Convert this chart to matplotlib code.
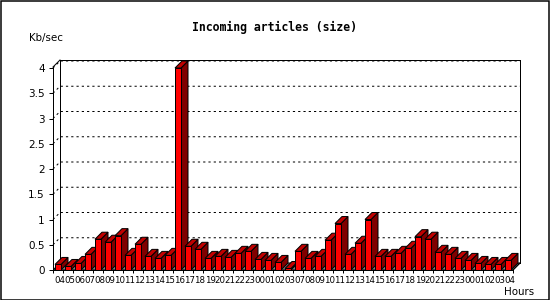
import matplotlib
matplotlib.use("Agg")
import matplotlib.pyplot as plt
from matplotlib.patches import Rectangle, Polygon
import numpy as np

hours = ['04', '05', '06', '07', '08', '09', '10', '11', '12', '13', '14', '15',
         '16', '17', '18', '19', '20', '21', '22', '23', '00', '01', '02', '03',
         '07', '08', '09', '10', '11', '12', '13', '14', '15', '16', '17', '18',
         '19', '20', '21', '22', '23', '00', '01', '02', '03', '04']
kb_sec = [0.11, 0.07, 0.13, 0.31, 0.61, 0.55, 0.68, 0.29, 0.51, 0.27, 0.23, 0.29,
          4.0, 0.47, 0.41, 0.23, 0.27, 0.25, 0.33, 0.37, 0.21, 0.19, 0.15, 0.03,
          0.37, 0.23, 0.27, 0.59, 0.92, 0.31, 0.53, 1.0, 0.27, 0.27, 0.33, 0.43,
          0.66, 0.61, 0.35, 0.31, 0.23, 0.19, 0.13, 0.11, 0.11, 0.19]
y_ticks = [0, 0.5, 1, 1.5, 2, 2.5, 3, 3.5, 4]
y_tick_labels = ['0', '0.5', '1', '1.5', '2', '2.5', '3', '3.5', '4']

W, H = 550, 300
PX = 0.72  # one pixel in points at dpi 100
plt.rcParams['lines.scale_dashes'] = False

fig = plt.figure(figsize=(W / 100, H / 100), dpi=100)
fig.patch.set_facecolor('white')

# axes placed in pixel coordinates (front-left/bottom to back-right/top)
left_px, right_px, top_px, base_px = 53, 520, 60, 270
ax = fig.add_axes([left_px / W, 1 - base_px / H, (right_px - left_px) / W,
                   (base_px - top_px) / H])
ypp = 50.5  # pixels per unit
xpp = 10.0
x0 = -(55 - left_px) / xpp
x1 = (right_px - 55) / xpp
ytop = (base_px - top_px) / ypp
ax.set_xlim(x0, x1)
ax.set_ylim(0, ytop)
ax.patch.set_alpha(0)
for s in ax.spines.values():
    s.set_visible(False)

DX = 7 / xpp
DY = 7 / ypp
BW = 0.6
front_right = x1 - DX

# floor
ax.add_patch(Polygon([(x0, 0), (front_right, 0), (x1, DY), (x0 + DX, DY)],
                     closed=True, facecolor='#808080', edgecolor='black',
                     linewidth=PX, zorder=1))

# grid lines on left wall and back plane
for v in y_ticks[1:]:
    ax.plot([x0, x0 + DX, x1], [v, v + DY, v + DY], color='black',
            linewidth=PX, linestyle=(0, (1.6, 2.2)), zorder=1, clip_on=False)

# frame lines
kw = dict(color='black', linewidth=PX, clip_on=False, zorder=2)
ax.plot([x0 + DX, x0 + DX], [DY, ytop], **kw)
ax.plot([x0 + DX, x1], [ytop, ytop], **kw)
ax.plot([x1, x1], [DY, ytop], **kw)
ax.plot([x0, x0], [0, ytop - DY], **kw)
ax.plot([x0, x0 + DX], [ytop - DY, ytop], **kw)
ax.plot([x0, front_right], [0, 0], **kw)
ax.plot([front_right, x1], [0, DY], **kw)

# 3D bars
for i, v in enumerate(kb_sec):
    z = 5 + i * 0.01
    ax.add_patch(Polygon([(i + BW, 0), (i + BW + DX, DY), (i + BW + DX, v + DY),
                          (i + BW, v)], closed=True, facecolor='#800000',
                         edgecolor='black', linewidth=PX, zorder=z))
    ax.add_patch(Polygon([(i, v), (i + BW, v), (i + BW + DX, v + DY),
                          (i + DX, v + DY)], closed=True, facecolor='#c00000',
                         edgecolor='black', linewidth=PX, zorder=z))
    ax.add_patch(Rectangle((i, 0), BW, v, facecolor='#ff0000',
                           edgecolor='black', linewidth=PX, zorder=z + 0.001))

# ticks
ax.set_yticks(y_ticks)
ax.set_yticklabels(y_tick_labels, fontsize=7.5, family='DejaVu Sans')
ax.tick_params(axis='y', direction='out', length=4 * PX, width=PX, pad=3)
ax.set_xticks(np.arange(len(hours) + 1) + x0)
ax.set_xticklabels([])
ax.tick_params(axis='x', which='major', direction='out', length=3 * PX, width=PX)
ax.set_xticks(np.arange(len(hours)) + 0.5, minor=True)
ax.set_xticklabels(hours, minor=True, fontsize=6.2, family='DejaVu Sans')
ax.tick_params(axis='x', which='minor', length=0, pad=4.3)

# texts
fig.text(274 / W, 1 - 27 / H, 'Incoming articles (size)', ha='center', va='center',
         fontsize=8.3, fontweight='bold', family='DejaVu Sans Mono')
fig.text(29 / W, 1 - 38 / H, 'Kb/sec', ha='left', va='center', fontsize=7.4,
         family='DejaVu Sans')
fig.text(519 / W, 1 - 292 / H, 'Hours', ha='center', va='center', fontsize=7.4,
         family='DejaVu Sans')

# outer border
fig.patches.append(Rectangle((0.5 / W, 0.5 / H), (W - 1.5) / W, (H - 1.5) / H,
                             transform=fig.transFigure, fill=False,
                             edgecolor='black', linewidth=PX * 1.5))

fig.savefig('out.png', dpi=100)
